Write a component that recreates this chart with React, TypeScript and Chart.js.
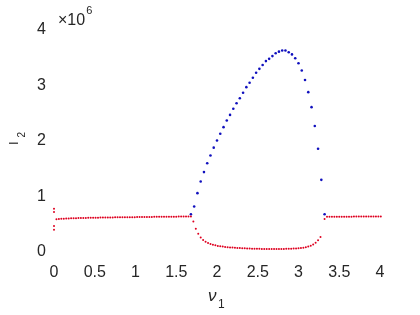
import { useEffect, useRef } from "react";
import { Chart, registerables } from "chart.js";

Chart.register(...registerables);

const xTicks = [0, 0.5, 1, 1.5, 2, 2.5, 3, 3.5, 4];
const yTicks = [0, 1, 2, 3, 4];

// values in units of 1e6
const blueX = [1.68, 1.72, 1.76, 1.8, 1.84, 1.88, 1.92, 1.96, 2.0, 2.04, 2.08, 2.12, 2.16, 2.2, 2.24, 2.28, 2.32, 2.36, 2.4, 2.44, 2.48, 2.52, 2.56, 2.6, 2.64, 2.68, 2.72, 2.76, 2.8, 2.84, 2.88, 2.92, 2.96, 3.0, 3.04, 3.08, 3.12, 3.16, 3.2, 3.24, 3.28, 3.32];
const blueY = [0.68, 0.82, 1.06, 1.27, 1.44, 1.6, 1.74, 1.88, 2.01, 2.13, 2.25, 2.37, 2.47, 2.58, 2.68, 2.77, 2.87, 2.97, 3.05, 3.14, 3.23, 3.3, 3.37, 3.44, 3.48, 3.53, 3.58, 3.61, 3.63, 3.63, 3.6, 3.56, 3.49, 3.4, 3.27, 3.1, 2.88, 2.61, 2.27, 1.86, 1.3, 0.68];

const redLeftX = [0, 0, 0, 0, 0.03, 0.06, 0.09, 0.12, 0.15, 0.18, 0.21, 0.24, 0.27, 0.3, 0.33, 0.36, 0.39, 0.42, 0.45, 0.48, 0.51, 0.54, 0.57, 0.6, 0.63, 0.66, 0.69, 0.72, 0.75, 0.78, 0.81, 0.84, 0.87, 0.9, 0.93, 0.96, 0.99, 1.02, 1.05, 1.08, 1.11, 1.14, 1.17, 1.2, 1.23, 1.26, 1.29, 1.32, 1.35, 1.38, 1.41, 1.44, 1.47, 1.5, 1.53, 1.56, 1.59, 1.62, 1.65, 1.68];
const redLeftY = [0.78, 0.72, 0.47, 0.4, 0.59, 0.595, 0.598, 0.601, 0.603, 0.605, 0.607, 0.608, 0.61, 0.611, 0.612, 0.613, 0.614, 0.615, 0.616, 0.617, 0.618, 0.619, 0.62, 0.62, 0.621, 0.622, 0.622, 0.623, 0.624, 0.624, 0.625, 0.626, 0.626, 0.627, 0.627, 0.628, 0.628, 0.629, 0.63, 0.63, 0.631, 0.631, 0.632, 0.632, 0.633, 0.633, 0.634, 0.634, 0.635, 0.635, 0.636, 0.636, 0.637, 0.637, 0.638, 0.638, 0.639, 0.639, 0.64, 0.64];

const redMidX = [1.71, 1.74, 1.77, 1.8, 1.83, 1.86, 1.89, 1.92, 1.95, 1.98, 2.01, 2.04, 2.07, 2.1, 2.13, 2.16, 2.19, 2.22, 2.25, 2.28, 2.31, 2.34, 2.37, 2.4, 2.43, 2.46, 2.49, 2.52, 2.55, 2.58, 2.61, 2.64, 2.67, 2.7, 2.73, 2.76, 2.79, 2.82, 2.85, 2.88, 2.91, 2.94, 2.97, 3.0, 3.03, 3.06, 3.09, 3.12, 3.15, 3.18, 3.21, 3.24, 3.27];
const redMidY = [0.55, 0.42, 0.33, 0.26, 0.215, 0.185, 0.16, 0.145, 0.13, 0.12, 0.11, 0.103, 0.097, 0.092, 0.087, 0.083, 0.079, 0.076, 0.073, 0.07, 0.068, 0.066, 0.064, 0.062, 0.06, 0.059, 0.058, 0.057, 0.056, 0.055, 0.055, 0.054, 0.054, 0.054, 0.054, 0.055, 0.055, 0.056, 0.057, 0.058, 0.06, 0.062, 0.065, 0.068, 0.072, 0.078, 0.086, 0.097, 0.112, 0.135, 0.165, 0.21, 0.27];

const redRightX = [3.32, 3.35, 3.38, 3.41, 3.44, 3.47, 3.5, 3.53, 3.56, 3.59, 3.62, 3.65, 3.68, 3.71, 3.74, 3.77, 3.8, 3.83, 3.86, 3.89, 3.92, 3.95, 3.98, 4.01];
const redRightY = [0.595, 0.636, 0.636, 0.636, 0.636, 0.636, 0.637, 0.637, 0.637, 0.637, 0.637, 0.637, 0.638, 0.638, 0.638, 0.638, 0.638, 0.638, 0.638, 0.639, 0.639, 0.639, 0.639, 0.639];

const TEXT = "#262626";
const FONT = "'Liberation Sans', Arial, Helvetica, sans-serif";
const RED = "rgb(222,0,32)";
const BLUE = "rgb(16,16,190)";

function pts(xs: number[], ys: number[]) {
  return xs.map((x, i) => ({ x, y: ys[i] }));
}

const labelsPlugin = {
  id: "labelsPlugin",
  afterDraw(chart: any) {
    const ctx = chart.ctx;
    const a = chart.chartArea;
    ctx.save();
    ctx.fillStyle = TEXT;
    ctx.textBaseline = "alphabetic";
    // x10^6
    ctx.textAlign = "left";
    ctx.font = `16px ${FONT}`;
    ctx.fillText("\u00d710", a.left + 4, a.top - 5);
    const w = ctx.measureText("\u00d710").width;
    ctx.font = `11px ${FONT}`;
    ctx.fillText("6", a.left + 4 + w + 1, a.top - 16);
    // x axis title
    const cx = (a.left + a.right) / 2;
    ctx.font = `italic 17px ${FONT}`;
    ctx.fillText("\u03bd", cx - 9, 301);
    ctx.font = `12px ${FONT}`;
    ctx.fillText("1", cx + 1, 308);
    // y axis title
    ctx.translate(18, 145);
    ctx.rotate(-Math.PI / 2);
    ctx.font = `13px ${FONT}`;
    ctx.fillText("I", 0, 0);
    ctx.font = `10px ${FONT}`;
    ctx.fillText("2", 7.5, 7);
    ctx.restore();
  },
};

export default function App() {
  const ref = useRef<HTMLCanvasElement | null>(null);
  useEffect(() => {
    if (!ref.current) return;
    const dot = (color: string, r: number) => ({
      pointRadius: r,
      pointBorderWidth: 0,
      pointBackgroundColor: color,
      borderColor: color,
      backgroundColor: color,
      showLine: false,
    });
    const chart = new Chart(ref.current, {
      type: "scatter",
      data: {
        datasets: [
          { data: pts(redLeftX, redLeftY), ...dot(RED, 1.0) },
          { data: pts(redMidX, redMidY), ...dot(RED, 1.0) },
          { data: pts(redRightX, redRightY), ...dot(RED, 1.0) },
          { data: pts(blueX, blueY), ...dot(BLUE, 1.3) },
        ],
      },
      options: {
        animation: false,
        responsive: false,
        clip: false as any,
        layout: { padding: { top: 30, right: 40, left: 0, bottom: 0 } },
        plugins: { legend: { display: false }, tooltip: { enabled: false } },
        scales: {
          x: {
            type: "linear",
            min: 0,
            max: 4,
            grid: { display: false, drawTicks: false },
            border: { display: false },
            afterBuildTicks: (s: any) => {
              s.ticks = xTicks.map((v) => ({ value: v }));
            },
            afterFit: (s: any) => {
              s.height = 63;
            },
            ticks: {
              color: TEXT,
              font: { family: FONT, size: 16 },
              padding: 11,
              maxRotation: 0,
              autoSkip: false,
              callback: (v: any) => String(v),
            },
          },
          y: {
            type: "linear",
            min: 0,
            max: 4,
            grid: { display: false, drawTicks: false },
            border: { display: false },
            afterBuildTicks: (s: any) => {
              s.ticks = yTicks.map((v) => ({ value: v }));
            },
            afterFit: (s: any) => {
              s.width = 54;
            },
            ticks: {
              color: TEXT,
              font: { family: FONT, size: 16 },
              padding: 8,
              autoSkip: false,
              callback: (v: any) => String(v),
            },
          },
        },
      },
      plugins: [labelsPlugin],
    });
    return () => chart.destroy();
  }, []);
  return (
    <div style={{ position: "fixed", left: 0, top: 0, width: 420, height: 315, background: "#fff" }}>
      <canvas ref={ref} width={420} height={315} style={{ width: 420, height: 315 }} />
    </div>
  );
}
